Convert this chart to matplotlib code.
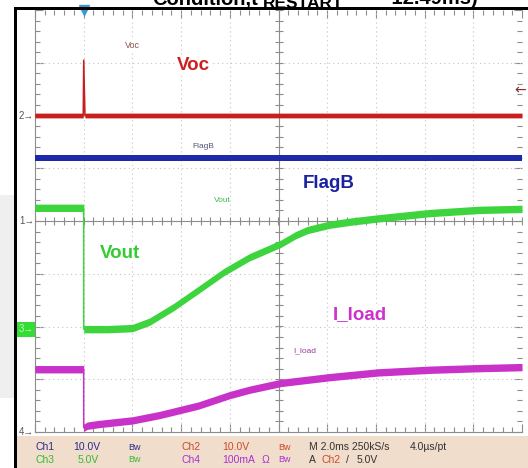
import numpy as np
import matplotlib
matplotlib.use('Agg')
import matplotlib.pyplot as plt
from matplotlib.patches import Rectangle
from matplotlib.ticker import MultipleLocator

plt.rcParams['font.family'] = ['Liberation Sans', 'DejaVu Sans']

# time axis in ms, trigger at t = 0 (2 ms/div)
voc_t = [-2.0, -0.02, 0.0, 0.05, 18.0]
voc_v = [0.0, 0.0, 10.5, 0.0, 0.0]

flagb_t = [-2.0, 18.0]
flagb_v = [11.9, 11.9]

vout_t = [-2.0, 0.0, 0.0, 1.0, 2.0, 2.7, 3.7, 4.7, 5.75, 6.8, 7.5, 8.1, 8.7, 9.2, 10.1, 11.0,
          12.1, 14.2, 16.2, 18.0]
vout_v = [11.5, 11.5, 0.0, 0.0, 0.1, 0.7, 2.1, 3.7, 5.4, 6.8, 7.5, 8.1, 8.9, 9.4, 9.9, 10.2,
          10.5, 11.0, 11.3, 11.4]

iload_t = [-2.0, 0.0, 0.0, 0.15, 0.6, 2.0, 3.1, 4.7, 6.0, 6.8, 8.1, 10.1, 12.1, 14.2, 16.2, 18.0]
iload_ma = [119, 119, 8, 12, 15, 22, 32, 50, 70, 80, 93, 104, 113, 118, 121, 123]

# channel settings: units per division, ground position in divisions
ch1_scale, ch1_pos = 10.0, 0.0
ch2_scale, ch2_pos = 10.0, 2.0
ch3_scale, ch3_pos = 5.0, -2.05
ch4_scale, ch4_pos = 100.0, -4.0

W, H = 528, 468
fig = plt.figure(figsize=(W / 100, H / 100), dpi=100)

# pixel-space background layer
bg = fig.add_axes([0, 0, 1, 1], zorder=0)
bg.set_xlim(0, W)
bg.set_ylim(H, 0)
bg.axis('off')
bg.add_patch(Rectangle((0, 195), 14, 203, color='#efefef', lw=0))
bg.add_patch(Rectangle((17, 436), W - 17, H - 436, color='#f1ddcc', lw=0))

# scope graticule
gx0, gx1, gy0, gy1 = 35, 522, 10, 432
ax = fig.add_axes([gx0 / W, (H - gy1) / H, (gx1 - gx0) / W, (gy1 - gy0) / H], zorder=1)
ax.set_facecolor('none')
ax.set_xlim(-2, 18)
ax.set_ylim(-4, 4)
ax.xaxis.set_major_locator(MultipleLocator(2))
ax.xaxis.set_minor_locator(MultipleLocator(0.4))
ax.yaxis.set_major_locator(MultipleLocator(1))
ax.yaxis.set_minor_locator(MultipleLocator(0.2))
gcol = '#8c8c8c'
ax.tick_params(which='both', direction='in', top=True, right=True, bottom=True, left=True,
               labelbottom=False, labelleft=False, color=gcol, width=0.8)
ax.tick_params(which='major', length=6)
ax.tick_params(which='minor', length=3.5)
for side in ['top', 'right']:
    ax.spines[side].set_visible(False)
for side in ['left', 'bottom']:
    ax.spines[side].set_color(gcol)
    ax.spines[side].set_linewidth(0.8)

for x in range(0, 18, 2):
    if x != 8:
        ax.axvline(x, color='#c4c4c4', lw=0.8, ls=(0, (1, 3)))
for y in range(-3, 4):
    if y != 0:
        ax.axhline(y, color='#c4c4c4', lw=0.8, ls=(0, (1, 3)))
ax.axvline(8, color=gcol, lw=0.8)
ax.axhline(0, color=gcol, lw=0.8)
yt = np.arange(-4, 4.01, 0.2)
xt = np.arange(-2, 18.01, 0.4)
ax.plot(np.full(len(yt), 8.0), yt, ls='none', marker='_', ms=6, mew=0.8, color=gcol)
ax.plot(xt, np.zeros(len(xt)), ls='none', marker='|', ms=6, mew=0.8, color=gcol)


def trace(t, vals, scale, pos, color, half):
    y = np.asarray(vals, dtype=float) / scale + pos
    ax.fill_between(t, y - half, y + half, color=color, lw=0, zorder=3)
    ax.plot(t, y, color=color, lw=1.1, zorder=3)


trace(voc_t, voc_v, ch2_scale, ch2_pos, '#c81e1e', 0.045)
trace(flagb_t, flagb_v, ch1_scale, ch1_pos, '#1c2aa8', 0.055)
trace(vout_t, vout_v, ch3_scale, ch3_pos, '#3ed43e', 0.07)
trace(iload_t, iload_ma, ch4_scale, ch4_pos, '#c832c8', 0.07)

# trigger position marker
ax.plot(0, 4, marker='v', ms=7, color='#3a9ad0', clip_on=False, zorder=5)

# overlay layer: labels, borders, readouts
top = fig.add_axes([0, 0, 1, 1], zorder=2)
top.set_facecolor('none')
top.set_xlim(0, W)
top.set_ylim(H, 0)
top.axis('off')

wbox = dict(facecolor='white', edgecolor='none', pad=1)
top.text(132, 46, 'Voc', fontsize=6.5, color='#8a5050', ha='center', va='center', bbox=wbox)
top.text(193, 66, 'Voc', fontsize=13.5, fontweight='bold', color='#cc1f1f', ha='center', va='center', bbox=wbox)
top.text(203, 147, 'FlagB', fontsize=6, color='#555577', ha='center', va='center')
top.text(329, 183, 'FlagB', fontsize=13.5, fontweight='bold', color='#1a22a0', ha='center', va='center', bbox=wbox)
top.text(222, 201, 'Vout', fontsize=6, color='#44bb44', ha='center', va='center')
top.text(120, 253, 'Vout', fontsize=13.5, fontweight='bold', color='#33cc33', ha='center', va='center', bbox=wbox)
top.text(360, 315, 'I_load', fontsize=13.5, fontweight='bold', color='#cc33cc', ha='center', va='center', bbox=wbox)
top.text(305, 351, 'I_load', fontsize=6, color='#9a3a9a', ha='center', va='center')

# channel ground markers
mcol = '#555555'
top.text(34, 116, '2→', fontsize=7, color=mcol, ha='right', va='center')
top.text(34, 221, '1→', fontsize=7, color=mcol, ha='right', va='center')
top.add_patch(Rectangle((17, 322), 18, 15, color='#33dd33', lw=0))
top.text(34, 329.5, '3→', fontsize=7, color='#c0f5c0', ha='right', va='center')
top.text(34, 432, '4→', fontsize=7, color=mcol, ha='right', va='center')
top.text(520, 90, '←', fontsize=10, color='#8b2a2a', ha='center', va='center',
         family='DejaVu Sans')

# title line, partly cut off at the top
top.text(152, 5, 'Condition,t', fontsize=14.5, fontweight='bold', ha='left', va='baseline')
top.text(263, 8, 'RESTART', fontsize=12.5, fontweight='bold', ha='left', va='baseline')
top.text(374, 4.5, '= 12.49ms)', fontsize=14.5, fontweight='bold', ha='left', va='baseline')

# black frame of the screenshot
top.add_patch(Rectangle((14, 7), 3, H - 7, color='black', lw=0))
top.add_patch(Rectangle((14, 7), W - 14, 2.5, color='black', lw=0))

# readout rows
navy, red, grn, pur, dark = '#2b2b8c', '#cc4a2a', '#33bb33', '#aa33cc', '#333333'
row1, row2 = 447, 460
fs = 7.5
readouts = [
    (35, row1, 'Ch1', navy, fs), (73, row1, '10.0V', navy, fs), (128, row1, 'Bw', navy, 6.5),
    (182, row1, 'Ch2', red, fs), (222, row1, '10.0V', red, fs), (278, row1, 'Bw', red, 6.5),
    (309, row1, 'M 2.0ms 250kS/s', dark, fs), (410, row1, '4.0µs/pt', dark, fs),
    (35, row2, 'Ch3', grn, fs), (78, row2, '5.0V', grn, fs), (128, row2, 'Bw', grn, 6.5),
    (182, row2, 'Ch4', pur, fs), (222, row2, '100mA', pur, fs), (262, row2, 'Ω', pur, fs),
    (278, row2, 'Bw', pur, 6.5), (309, row2, 'A', dark, fs), (321, row2, 'Ch2', red, fs),
    (346, row2, '/', dark, fs), (357, row2, '5.0V', dark, fs),
]
for x, y, s, c, f in readouts:
    top.text(x, y, s, fontsize=f, color=c, ha='left', va='center')

fig.savefig('out.png', dpi=100)
